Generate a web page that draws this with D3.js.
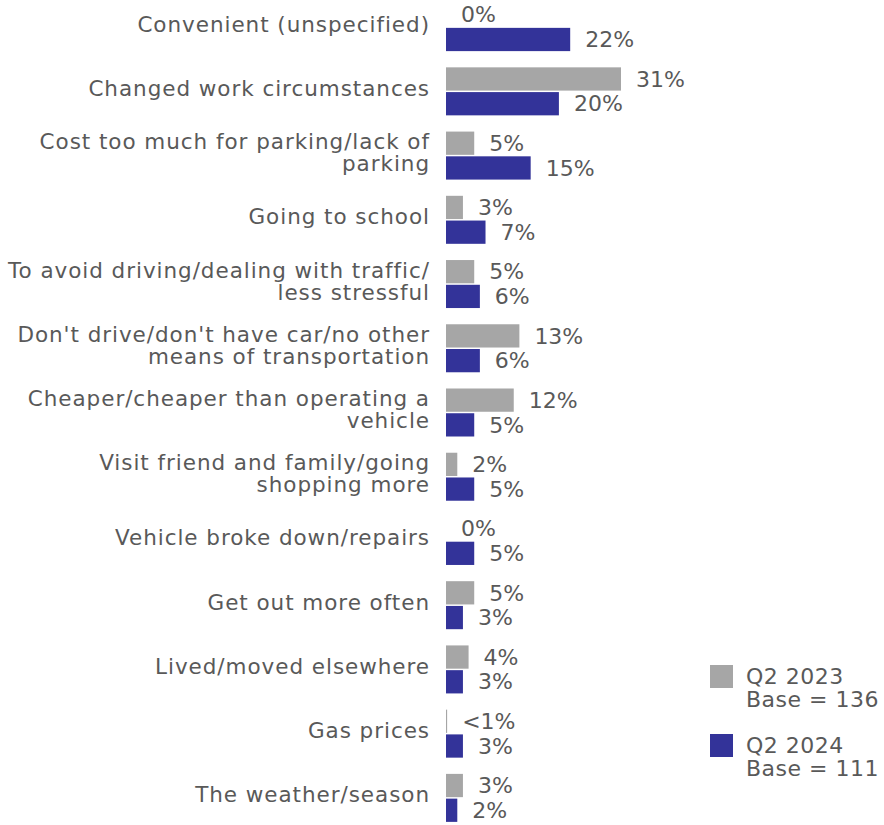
<!DOCTYPE html>
<html>
<head>
<meta charset="utf-8">
<script src="https://cdn.jsdelivr.net/npm/d3@7"></script>
<style>
  html, body { margin: 0; padding: 0; background: #fff; }
  svg text { font-family: "DejaVu Sans", sans-serif; fill: #595959; }
</style>
</head>
<body>
<svg id="chart" width="884" height="825"></svg>
<script>
// Reasons for riding, by survey wave
const categories = [
  ["Convenient (unspecified)"],
  ["Changed work circumstances"],
  ["Cost too much for parking/lack of", "parking"],
  ["Going to school"],
  ["To avoid driving/dealing with traffic/", "less stressful"],
  ["Don't drive/don't have car/no other", "means of transportation"],
  ["Cheaper/cheaper than operating a", "vehicle"],
  ["Visit friend and family/going", "shopping more"],
  ["Vehicle broke down/repairs"],
  ["Get out more often"],
  ["Lived/moved elsewhere"],
  ["Gas prices"],
  ["The weather/season"]
];
const q2_2023 = [0, 31, 5, 3, 5, 13, 12, 2, 0, 5, 4, 0.2, 3];
const q2_2024 = [22, 20, 15, 7, 6, 6, 5, 5, 5, 3, 3, 3, 2];
const seriesNames = ["Q2 2023", "Q2 2024"];
const seriesBases = ["Base = 136", "Base = 111"];
const colors = ["#a6a6a6", "#333399"];

const svg = d3.select("#chart");
const x0 = 446;
const x = d3.scaleLinear().domain([0, 31]).range([x0, x0 + 175]);
const keys = categories.map(c => c.join(" "));
const y = d3.scaleBand().domain(keys).range([-5, 830]);
const ySub = d3.scaleBand().domain([0, 1]).range([y.bandwidth() / 2 - 24, y.bandwidth() / 2 + 24]).paddingInner(0.06);

const fmt = v => (v > 0 && v < 1) ? "<1%" : d3.format(".0f")(v) + "%";

// Category axis
const axis = d3.axisLeft(y).tickSize(0).tickPadding(0).tickFormat("");
const gAxis = svg.append("g").attr("transform", `translate(${x0 - 16},0)`).call(axis);
gAxis.select(".domain").remove();
gAxis.selectAll(".tick").each(function(d, i) {
  const lines = categories[i];
  const t = d3.select(this).append("text")
    .attr("text-anchor", "end")
    .style("font-size", "21.5px")
    .style("letter-spacing", "0.95px");
  const lh = 22;
  lines.forEach((ln, j) => {
    t.append("tspan").attr("x", 0)
      .attr("y", -3 + (j - (lines.length - 1) / 2) * lh)
      .attr("dy", "0.35em")
      .text(ln);
  });
});

const data = keys.map((k, i) => ({ key: k, vals: [q2_2023[i], q2_2024[i]] }));
const groups = svg.append("g").selectAll("g").data(data).join("g")
  .attr("transform", d => `translate(0,${y(d.key)})`);

groups.selectAll("rect").data(d => d.vals).join("rect")
  .attr("x", x(0))
  .attr("y", (v, s) => ySub(s))
  .attr("width", v => x(v) - x(0))
  .attr("height", ySub.bandwidth())
  .attr("fill", (v, s) => colors[s]);

groups.selectAll("text.val").data(d => d.vals).join("text")
  .attr("class", "val")
  .attr("x", v => x(v) + 15)
  .attr("y", (v, s) => ySub(s) + ySub.bandwidth() / 2)
  .attr("dy", "0.35em")
  .style("font-size", "22px")
  .text(fmt);

// Legend
const legend = svg.append("g").selectAll("g").data(seriesNames).join("g")
  .attr("transform", (d, i) => `translate(710,${665 + i * 69})`);
legend.append("rect").attr("width", 23).attr("height", 23).attr("fill", (d, i) => colors[i]);
const lt = legend.append("text").style("font-size", "22px").style("letter-spacing", "0.5px");
lt.append("tspan").attr("x", 36).attr("y", 11).attr("dy", "0.35em").text(d => d);
lt.append("tspan").attr("x", 36).attr("y", 34).attr("dy", "0.35em").text((d, i) => seriesBases[i]);
</script>
</body>
</html>
